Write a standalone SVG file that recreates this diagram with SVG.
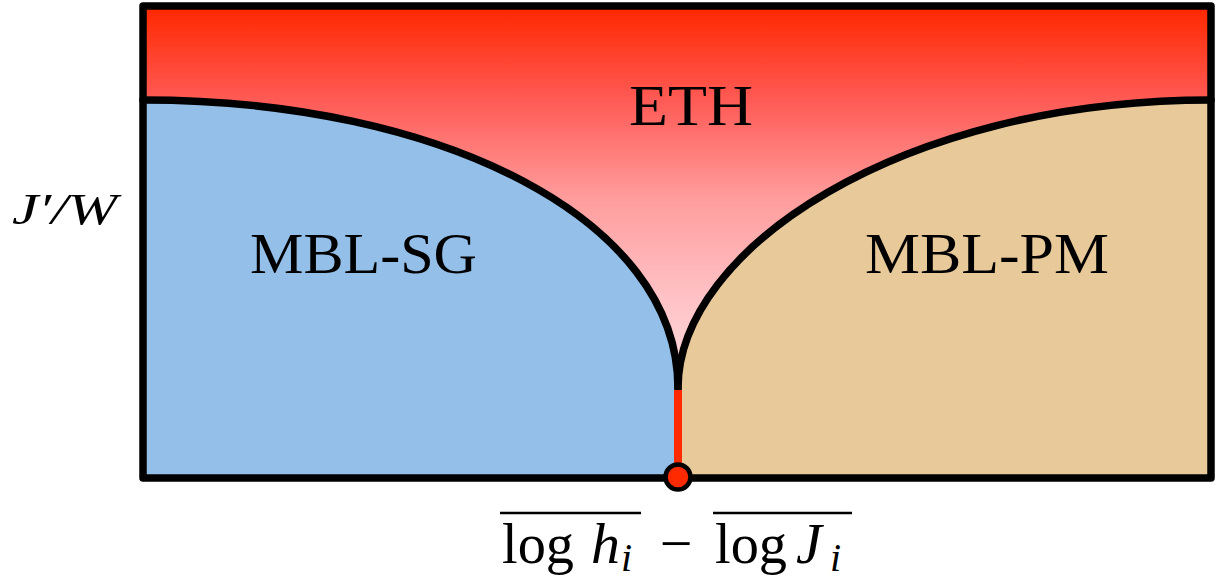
<svg xmlns="http://www.w3.org/2000/svg" width="1217" height="578" viewBox="0 0 1217 578">
<style>
.bd{fill:none;stroke:#000;stroke-width:7.5;stroke-linecap:round;stroke-linejoin:round}
</style>
<defs>
<linearGradient id="eth" gradientUnits="userSpaceOnUse" x1="0" y1="8" x2="0" y2="390">
<stop offset="0" stop-color="#ff2800"/>
<stop offset="0.24" stop-color="#ff5a55"/>
<stop offset="0.5" stop-color="#ff9d9d"/>
<stop offset="0.76" stop-color="#ffc2c6"/>
<stop offset="1" stop-color="#ffdde0"/>
</linearGradient>
</defs>
<g id="regions">
<rect id="eth-region" x="143" y="6" width="1068" height="472" fill="url(#eth)"/>
<path id="sg-region" d="M143,100 C443,100 678,220 678,388 L678,478 L143,478 Z" fill="#93bfe8"/>
<path id="pm-region" d="M678,388 C678,250 900,100 1211,100 L1211,478 L678,478 Z" fill="#e8c999"/>
</g>
<g id="connectors">
<path class="bd" d="M143,100 C443,100 678,220 678,388"/>
<path class="bd" d="M678,388 C678,250 900,100 1211,100"/>
<line x1="678" y1="390" x2="678" y2="470" stroke="#ff2a00" stroke-width="8"/>
<rect x="143" y="6" width="1068" height="472" class="bd"/>
<circle cx="678" cy="477" r="12.5" fill="#ff2a00" stroke="#000" stroke-width="4.5"/>
</g>
<g id="labels" font-family="'Liberation Serif', 'Times New Roman', serif" font-size="58" fill="#000">
<text x="629" y="125" textLength="124" lengthAdjust="spacingAndGlyphs">ETH</text>
<text x="250" y="273" textLength="227" lengthAdjust="spacingAndGlyphs">MBL-SG</text>
<text x="865" y="273" textLength="244" lengthAdjust="spacingAndGlyphs">MBL-PM</text>
<text x="12" y="224" font-size="44" font-style="italic" textLength="105" lengthAdjust="spacingAndGlyphs">J′/W</text>
</g>
<g id="xlabel" font-family="'Liberation Serif', 'Times New Roman', serif" font-size="58" fill="#000">
<line x1="500" y1="513" x2="641" y2="513" stroke="#000" stroke-width="2.5"/>
<line x1="713" y1="513" x2="852" y2="513" stroke="#000" stroke-width="2.5"/>
<text x="502" y="563" textLength="72" lengthAdjust="spacingAndGlyphs">log</text>
<text x="591" y="563" font-style="italic">h</text>
<text x="621" y="571" font-size="40" font-style="italic">i</text>
<text x="676" y="563" text-anchor="middle">−</text>
<text x="715" y="563" textLength="72" lengthAdjust="spacingAndGlyphs">log</text>
<text x="796" y="563" font-style="italic">J</text>
<text x="830" y="571" font-size="40" font-style="italic">i</text>
</g>
</svg>
